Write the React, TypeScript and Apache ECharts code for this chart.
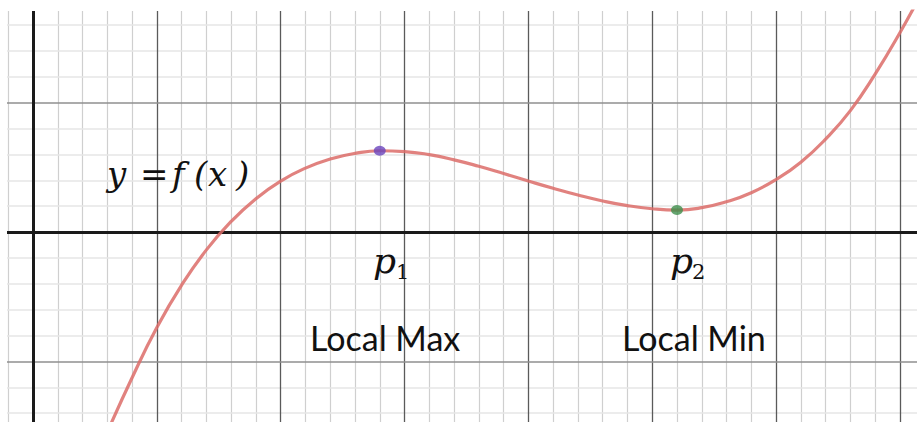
import React, { useEffect, useRef } from "react";
import * as echarts from "echarts";

// ---- data (grid units: 1 minor square) ----
const curveX = [3, 4, 5, 6, 7, 8, 9, 10, 11, 12, 13, 14, 15, 16, 17, 18, 19, 20, 21, 22, 23, 24, 25, 26, 27, 28, 29, 30, 31, 32, 33, 34, 35, 35.9];
const curveY = [-7.73, -5.63, -3.69, -2.05, -0.69, 0.41, 1.29, 1.97, 2.47, 2.82, 3.04, 3.14, 3.11, 2.99, 2.79, 2.54, 2.26, 1.97, 1.69, 1.43, 1.2, 1.02, 0.9, 0.85, 0.94, 1.17, 1.52, 2.03, 2.7, 3.59, 4.69, 6.1, 7.7, 9.28];

const pointNames = ["p1", "p2"];
const pointX = [14, 26];
const pointY = [3.14, 0.85];
const pointColors = ["#6a45bd", "#3e8f4c"];

const xGridTicks = [-1, 0, 1, 2, 3, 4, 5, 6, 7, 8, 9, 10, 11, 12, 13, 14, 15, 16, 17, 18, 19, 20, 21, 22, 23, 24, 25, 26, 27, 28, 29, 30, 31, 32, 33, 34, 35];
const yGridTicks = [-7, -6, -5, -4, -3, -2, -1, 0, 1, 2, 3, 4, 5, 6, 7, 8];

const X_MIN = -1.05;
const X_MAX = 35.69;
const Y_MIN = -7.34;
const Y_MAX = 8.54;

const mathFont = "italic 34px 'DejaVu Serif'";
const pFont = "italic 36px 'DejaVu Serif'";
const subFont = "21px 'DejaVu Serif'";
const labelFont = "34px Lato";

export default function App() {
  const ref = useRef<HTMLDivElement>(null);

  useEffect(() => {
    document.body.style.margin = "0";
    if (!ref.current) return;
    const chart = echarts.init(ref.current, undefined, { renderer: "svg" });

    const minorV = { color: "#cfcfcf", width: 1.2, type: "solid" as const };
    const minorH = { color: "#e6e6e6", width: 1.6, type: "solid" as const };
    const majorV = { color: "#5a5a5a", width: 1.3, type: "solid" as const };
    const majorH = { color: "#8f8f8f", width: 1.6, type: "solid" as const };
    const axisStyle = { color: "#1a1a1a", width: 3, type: "solid" as const };

    const minorLines: any[] = [];
    const majorLines: any[] = [];
    const axisLines: any[] = [];
    xGridTicks.forEach((v) => {
      if (v === 0) axisLines.push({ xAxis: v, lineStyle: axisStyle });
      else if (v % 5 === 0) majorLines.push({ xAxis: v, lineStyle: majorV });
      else minorLines.push({ xAxis: v, lineStyle: minorV });
    });
    yGridTicks.forEach((v) => {
      if (v === 0) axisLines.push({ yAxis: v, lineStyle: axisStyle });
      else if (v % 5 === 0) majorLines.push({ yAxis: v, lineStyle: majorH });
      else minorLines.push({ yAxis: v, lineStyle: minorH });
    });

    const lineSeries = (name: string, data: any[], z: number) => ({
      name,
      type: "scatter",
      data: [[X_MIN, Y_MIN]],
      symbolSize: 0,
      silent: true,
      z,
      markLine: {
        silent: true,
        symbol: ["none", "none"],
        label: { show: false },
        animation: false,
        data,
      },
    });

    const textEl = (text: string, x: number, y: number, font: string) => ({
      type: "text",
      x,
      y,
      z: 100,
      style: {
        text,
        font,
        fill: "#111111",
        textAlign: "left",
        textVerticalAlign: "middle",
      },
    });

    chart.setOption({
      animation: false,
      backgroundColor: "#ffffff",
      grid: { left: 7, top: 11, right: 0, bottom: 0, containLabel: false },
      xAxis: {
        type: "value",
        min: X_MIN,
        max: X_MAX,
        show: false,
        splitLine: { show: false },
      },
      yAxis: {
        type: "value",
        min: Y_MIN,
        max: Y_MAX,
        show: false,
        splitLine: { show: false },
      },
      series: [
        lineSeries("minor", minorLines, 1),
        lineSeries("major", majorLines, 2),
        lineSeries("axes", axisLines, 3),
        {
          name: "f",
          type: "line",
          data: curveX.map((x, i) => [x, curveY[i]]),
          smooth: true,
          showSymbol: false,
          symbol: "none",
          clip: true,
          z: 5,
          lineStyle: { color: "#dc6c69", width: 3.2, opacity: 0.85 },
        },
        {
          name: "points",
          type: "scatter",
          z: 6,
          symbol: "circle",
          symbolSize: [12, 10],
          data: pointX.map((x, i) => ({
            name: pointNames[i],
            value: [x, pointY[i]],
            itemStyle: { color: pointColors[i] },
          })),
        },
      ],
      graphic: [
        textEl("y", 107, 174, mathFont),
        textEl("=", 140, 174, mathFont),
        textEl("f", 172, 174, mathFont),
        textEl("(", 194, 174, mathFont),
        textEl("x", 208, 174, mathFont),
        textEl(")", 236, 174, mathFont),
        textEl("p", 373, 260, pFont),
        textEl("1", 396, 272, subFont),
        textEl("p", 670, 260, pFont),
        textEl("2", 692, 272, subFont),
        textEl("Local Max", 310, 337, labelFont),
        textEl("Local Min", 622, 337, labelFont),
      ],
    });

    return () => chart.dispose();
  }, []);

  return <div ref={ref} style={{ width: 917, height: 422 }} />;
}
